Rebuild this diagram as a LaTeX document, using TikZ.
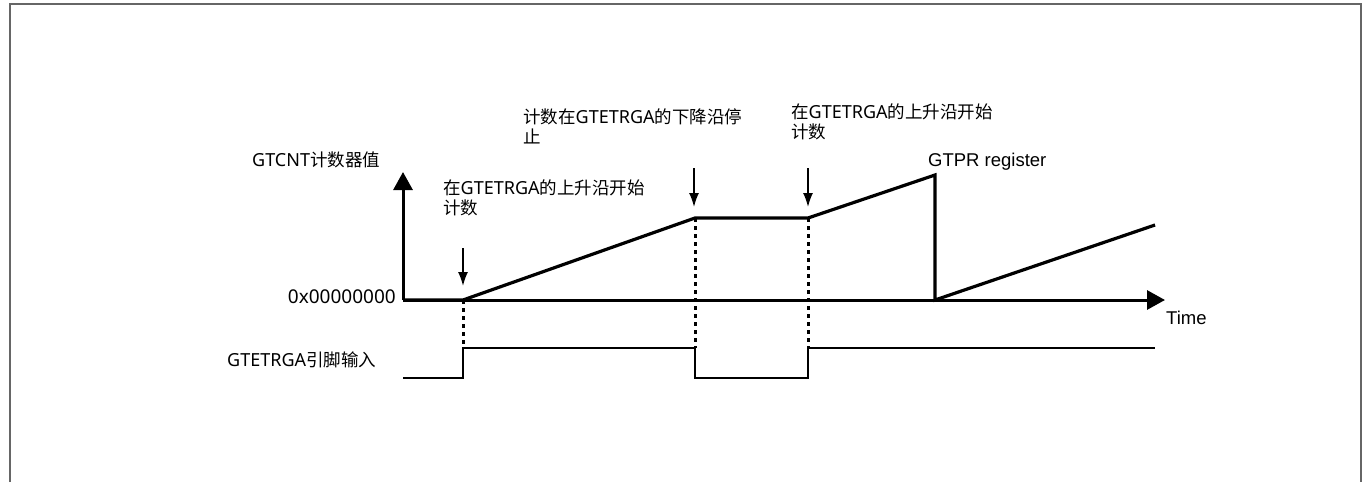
\documentclass[tikz,border=0pt]{standalone}
\usepackage{fontspec}
\setmainfont{Noto Sans}
\newfontfamily\cjk{Noto Sans CJK SC}
\newfontfamily\ari{Liberation Sans}
\newfontfamily\lat{Noto Sans}
\newcommand{\lt}[1]{{\fontsize{18}{20}\selectfont\lat #1}}
\usetikzlibrary{arrows.meta}
\begin{document}
\begin{tikzpicture}[x=1pt,y=-1pt,
  lbl/.style={inner sep=0pt,font=\fontsize{17.5}{20}\selectfont\cjk,align=left},
  albl/.style={inner sep=0pt,font=\fontsize{18.5}{20}\selectfont\ari},
  axis/.style={line width=3pt,-{Triangle[width=19pt,length=18pt]}},
  cnt/.style={line width=3.2pt,line join=miter},
  pin/.style={line width=2pt},
  dot/.style={line width=3pt,dash pattern=on 4pt off 4pt},
  marker/.style={line width=1.6pt,-{Latex[width=10pt,length=14pt]}},
  frame/.style={draw=black!60,line width=1.5pt}]
\useasboundingbox (0,0) rectangle (1370,482);
\draw[frame] (10,482) -- (10,4) -- (1361,4) -- (1361,482);
% coordinates
\coordinate (o) at (403,300);
\coordinate (ytip) at (403,172);
\coordinate (xtip) at (1165,300);
\coordinate (r1) at (463,300);
\coordinate (p1) at (695,218);
\coordinate (p2) at (808,218);
\coordinate (p3) at (935,175);
\coordinate (p4) at (935,300);
\coordinate (p5) at (1155,225);
\coordinate (s0) at (403,378);
\coordinate (s1) at (463,378);
\coordinate (s2) at (463,348);
\coordinate (s3) at (695,348);
\coordinate (s4) at (695,378);
\coordinate (s5) at (808,378);
\coordinate (s6) at (808,348);
\coordinate (s7) at (1155,348);
\coordinate (a1) at (463,248);
\coordinate (a1e) at (463,286);
\coordinate (a2) at (694,168);
\coordinate (a2e) at (694,207);
\coordinate (a3) at (808,168);
\coordinate (a3e) at (808,207);
% axes
\draw[axis] (o) -- (ytip);
\draw[axis] (o) -- (xtip);
% counter
\draw[cnt] (o) -- (r1) -- (p1) -- (p2) -- (p3) -- (p4) -- (p5);
% dotted guides
\draw[dot] (r1) -- (s2);
\draw[dot] (p1) -- (s3);
\draw[dot] (p2) -- (s6);
% pin signal
\draw[pin] (s0) -- (s1) -- (s2) -- (s3) -- (s4) -- (s5) -- (s6) -- (s7);
% marker arrows
\draw[marker] (a1) -- (a1e);
\draw[marker] (a2) -- (a2e);
\draw[marker] (a3) -- (a3e);
% labels
\node[lbl,anchor=west] (ylab) at (252,160) {\lt{GTCNT}计数器值};
\node[lbl,anchor=east] (zero) at (396,297) {{\fontsize{19}{20}\selectfont\lat 0x00000000}};
\node[lbl,anchor=west] (pinlab) at (227,360) {\lt{GTETRGA}引脚输入};
\node[lbl,anchor=west] (t1) at (443,198) {在\lt{GTETRGA}的上升沿开始\\计数};
\node[lbl,anchor=west] (t2) at (523,126) {计数在\lt{GTETRGA}的下降沿停\\止};
\node[lbl,anchor=west] (t3) at (791,122) {在\lt{GTETRGA}的上升沿开始\\计数};
\node[albl,anchor=west] (gtpr) at (928,162) {GTPR register};
\node[albl,anchor=west] (time) at (1166,318) {Time};
\end{tikzpicture}
\end{document}
